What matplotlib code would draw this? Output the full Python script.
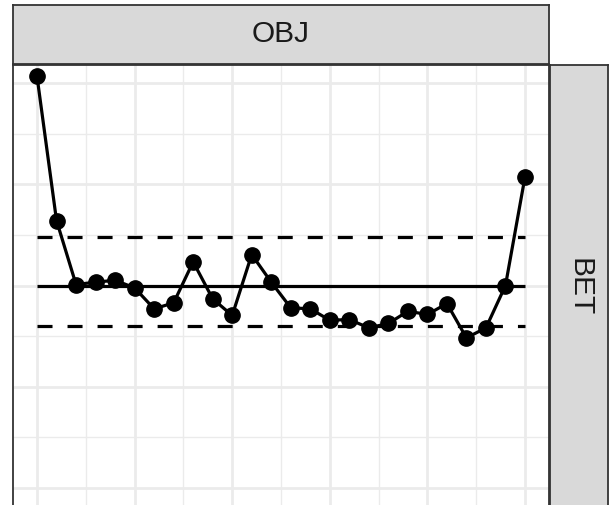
import matplotlib
matplotlib.use("Agg")
import matplotlib.pyplot as plt
from matplotlib.ticker import MultipleLocator

plt.rcParams["font.family"] = ["Liberation Sans", "DejaVu Sans"]

# Series observed over 26 consecutive steps
step = list(range(26))
value = [40.67, 26.42, 20.10, 20.33, 20.52, 19.77, 17.70, 18.29, 22.34, 18.69,
         17.04, 23.06, 20.33, 17.80, 17.70, 16.57, 16.64, 15.82, 16.25, 17.46,
         17.14, 18.22, 14.83, 15.82, 20.00, 30.74]

# Reference levels: centre line and lower / upper band (10th / 90th percentile)
centre_level = 20.0
band_low = 15.98
band_high = 24.81

col_label = "OBJ"
row_label = "BET"

W, H = 610, 505
fig = plt.figure(figsize=(W / 100, H / 100), dpi=100)

BORDER = "#333333"
STRIP_BG = "#D9D9D9"
GRID = "#EBEBEB"
TEXT = "#1A1A1A"

# pixel geometry of the panel
px_l, px_r = 12.6, 549.4
px_t, px_b = 65.0, 510.0

ax = fig.add_axes([px_l / W, 1 - px_b / H, (px_r - px_l) / W, (px_b - px_t) / H])
ax.set_xlim(-1.25, 26.25)
ax.set_ylim(-2.17, 41.78)
ax.xaxis.set_major_locator(MultipleLocator(5))
ax.xaxis.set_minor_locator(MultipleLocator(2.5))
ax.yaxis.set_major_locator(MultipleLocator(10))
ax.yaxis.set_minor_locator(MultipleLocator(5))
ax.grid(which="major", color=GRID, lw=2.0)
ax.grid(which="minor", color=GRID, lw=1.0)
ax.set_axisbelow(True)
ax.tick_params(which="both", length=0, labelbottom=False, labelleft=False)
for s in ax.spines.values():
    s.set_color(BORDER)
    s.set_linewidth(1.3)

x0, x1 = step[0], step[-1]
ax.plot([x0, x1], [centre_level, centre_level], color="black", lw=2.3,
        solid_capstyle="butt", zorder=2)
for lvl in (band_low, band_high):
    ax.plot([x0, x1], [lvl, lvl], color="black", lw=2.3, dashes=(4.7, 4.7),
            dash_capstyle="butt", zorder=2)

ax.plot(step, value, color="black", lw=2.3, marker="o", markersize=11,
        zorder=3, clip_on=False)

# facet strips
top = fig.add_axes([px_l / W, 1 - 64 / H, (px_r - px_l) / W, 59 / H])
right = fig.add_axes([550 / W, 1 - px_b / H, 58 / W, (px_b - px_t) / H])
for st in (top, right):
    st.set_facecolor(STRIP_BG)
    st.set_xticks([])
    st.set_yticks([])
    for s in st.spines.values():
        s.set_color(BORDER)
        s.set_linewidth(1.3)
top.text(0.5, 0.5, col_label, ha="center", va="center", fontsize=21.5,
         color=TEXT, transform=top.transAxes)
right.text(0.5, 0.5, row_label, ha="center", va="center", fontsize=21.5,
           color=TEXT, rotation=-90, transform=right.transAxes)

fig.savefig("out.png", dpi=100)
